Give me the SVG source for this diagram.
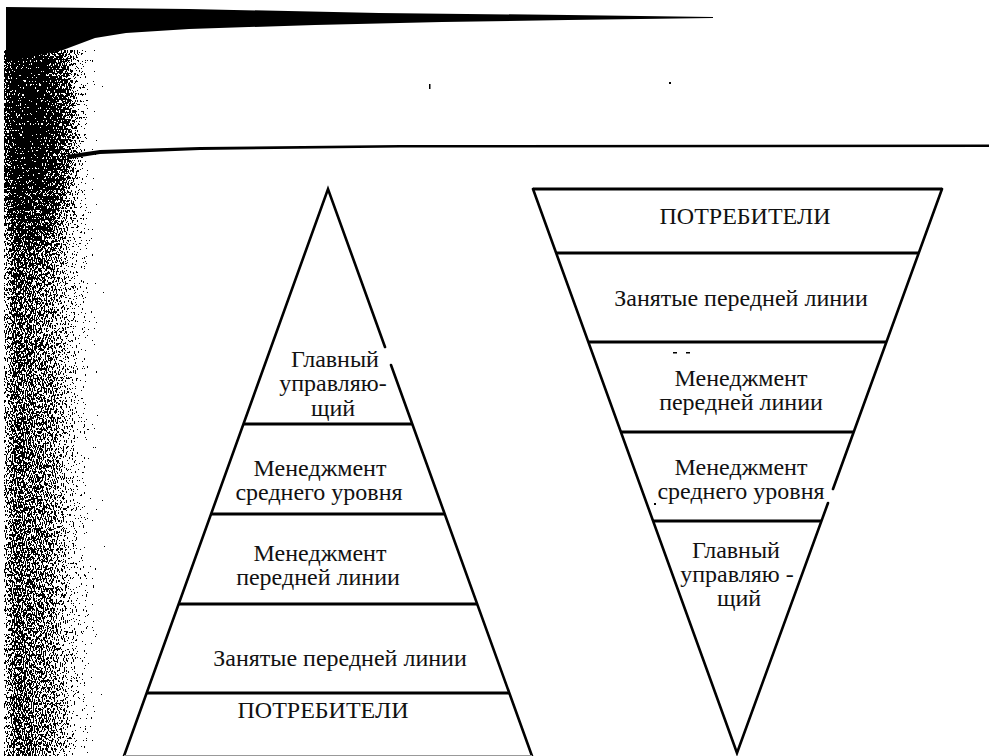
<svg xmlns="http://www.w3.org/2000/svg" width="989" height="756" viewBox="0 0 989 756">
<style>
.edge{stroke:#000;stroke-width:2.6;fill:none;stroke-linecap:round}
.tier{stroke:#000;stroke-width:3;fill:none}
.lbl{font-family:"Liberation Serif",serif;font-size:24px;fill:#111;text-anchor:middle}
.speck{fill:#000}
</style>
<defs>
<linearGradient id="dens" x1="0" y1="0" x2="1" y2="0">
<stop offset="0" stop-color="#000" stop-opacity="0.7"/>
<stop offset="0.1" stop-color="#000" stop-opacity="0.85"/>
<stop offset="0.45" stop-color="#000" stop-opacity="0.78"/>
<stop offset="0.75" stop-color="#000" stop-opacity="0.6"/>
<stop offset="1" stop-color="#000" stop-opacity="0.45"/>
</linearGradient>
<radialGradient id="dens2" cx="0.3" cy="0.2" r="0.8">
<stop offset="0" stop-color="#000" stop-opacity="0.95"/>
<stop offset="0.5" stop-color="#000" stop-opacity="0.8"/>
<stop offset="1" stop-color="#000" stop-opacity="0.3"/>
</radialGradient>
<filter id="grain" x="0" y="0" width="100%" height="100%" filterUnits="objectBoundingBox">
<feTurbulence type="fractalNoise" baseFrequency="1.1 0.35" numOctaves="2" seed="7" result="n"/>
<feColorMatrix in="n" type="matrix" values="0 0 0 0 0  0 0 0 0 0  0 0 0 0 0  1 0 0 0 0" result="na"/>
<feComposite in="SourceGraphic" in2="na" operator="arithmetic" k1="0" k2="1" k3="1" k4="-0.8" result="c"/>
<feComponentTransfer in="c"><feFuncA type="discrete" tableValues="0 1"/></feComponentTransfer>
</filter>
<filter id="grain2" x="0" y="0" width="100%" height="100%" filterUnits="objectBoundingBox">
<feTurbulence type="fractalNoise" baseFrequency="1.0 0.3" numOctaves="2" seed="23" result="n"/>
<feColorMatrix in="n" type="matrix" values="0 0 0 0 0  0 0 0 0 0  0 0 0 0 0  1 0 0 0 0" result="na"/>
<feComposite in="SourceGraphic" in2="na" operator="arithmetic" k1="0" k2="1" k3="1" k4="-0.8" result="c"/>
<feComponentTransfer in="c"><feFuncA type="discrete" tableValues="0 1"/></feComponentTransfer>
</filter>
</defs>
<rect width="989" height="756" fill="#fff"/>
<g id="scan-artifacts">
<rect x="4" y="50" width="106" height="706" fill="url(#dens)" filter="url(#grain)"/>
<rect x="4" y="50" width="96" height="320" fill="url(#dens2)" filter="url(#grain2)"/>
<path d="M6,7 L189,9 L379,13 L568,15 L713,17 L713,18 L568,20 L442,22 L315,25 L189,29 L126,33 L95,38 L63,50 L6,62 Z" fill="#000"/>
<path d="M66,155 L100,150 L200,147 L400,145 L989,144.5 L989,147 L400,147.5 L200,150 L100,154 L68,159 Z" fill="#000"/>
<rect class="speck" x="429" y="84" width="1.5" height="5"/>
<rect class="speck" x="669" y="82" width="2" height="2"/>
</g>
<g id="pyramid-left">
<path class="edge" d="M124,756 L328,189 L385,347"/>
<path class="edge" d="M391,365 L532,756"/>
<line class="tier" x1="243" y1="424" x2="413" y2="424"/>
<line class="tier" x1="211" y1="514" x2="445" y2="514"/>
<line class="tier" x1="179" y1="604" x2="477" y2="604"/>
<line class="tier" x1="147" y1="693" x2="509" y2="693"/>
<line x1="124" y1="755.5" x2="532" y2="755.5" stroke="#999" stroke-width="1"/>
<g id="left-ceo"><text class="lbl" x="335" y="367">Главный</text><text class="lbl" x="333" y="391">управляю-</text><text class="lbl" x="333" y="416">щий</text></g>
<g id="left-middle"><text class="lbl" x="320" y="476">Менеджмент</text><text class="lbl" x="319" y="500">среднего уровня</text></g>
<g id="left-frontmgmt"><text class="lbl" x="320" y="561">Менеджмент</text><text class="lbl" x="318" y="585">передней линии</text></g>
<g id="left-frontline"><text class="lbl" x="340" y="666">Занятые передней линии</text></g>
<g id="left-customers"><text class="lbl" x="323" y="718">ПОТРЕБИТЕЛИ</text></g>
</g>
<g id="pyramid-right">
<path class="edge" d="M533,189 L737,753 L828,503"/>
<path class="edge" d="M833,489 L942,189"/>
<line class="tier" x1="533" y1="189" x2="942" y2="189"/>
<line class="tier" x1="556" y1="253" x2="918" y2="253"/>
<line class="tier" x1="588" y1="342" x2="886" y2="342"/>
<line class="tier" x1="621" y1="432" x2="853" y2="432"/>
<line class="tier" x1="653" y1="521" x2="821" y2="521"/>
<g id="right-customers"><text class="lbl" x="745" y="224">ПОТРЕБИТЕЛИ</text></g>
<g id="right-frontline"><text class="lbl" x="741" y="306">Занятые передней линии</text></g>
<g id="right-frontmgmt"><text class="lbl" x="741" y="386">Менеджмент</text><text class="lbl" x="741" y="410">передней линии</text></g>
<g id="right-middle"><text class="lbl" x="741" y="475">Менеджмент</text><text class="lbl" x="741" y="499">среднего уровня</text></g>
<g id="right-ceo"><text class="lbl" x="736" y="558">Главный</text><text class="lbl" x="737" y="582">управляю -</text><text class="lbl" x="739" y="606">щий</text></g>
<rect class="speck" x="673" y="352" width="4" height="1.5"/>
<rect class="speck" x="686" y="352" width="4" height="1.5"/>
<rect class="speck" x="654" y="503" width="2" height="2"/>
</g>
</svg>
